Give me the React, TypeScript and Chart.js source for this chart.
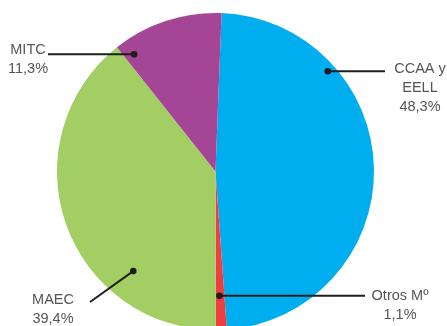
import React, { useEffect, useRef } from "react";
import { Chart, registerables } from "chart.js";

Chart.register(...registerables);

const categories = ["CCAA y EELL", "Otros Mº", "MAEC", "MITC"];
const values = [48.3, 1.1, 39.4, 11.3];
const sliceColors = ["#00AEEF", "#EE3E42", "#A2CE64", "#A44596"];
const labelLines = [["CCAA y", "EELL"], ["Otros Mº"], ["MAEC"], ["MITC"]];

const fmt = (v: number) => v.toFixed(1).replace(".", ",") + "%";

// annotation layout: where on the slice the dot sits (t along arc, rf radius fraction),
// where the leader ends, and where the text block is centered
const annotations = [
  { i: 0, t: 0.265, rf: 0.95, lx: 385, ly: null as number | null, tx: 420, ty: 72.5 },
  { i: 1, t: 0.58, rf: 0.785, lx: 365, ly: null as number | null, tx: 400, ty: 300 },
  { i: 2, t: 0.28, rf: 0.815, lx: 90, ly: 302, tx: 53, ty: 304 },
  { i: 3, t: 0.09, rf: 0.9, lx: 48, ly: null as number | null, tx: 28, ty: 54 },
];

const leaderPlugin = {
  id: "leaders",
  afterDraw(chart: any) {
    const ctx = chart.ctx;
    const meta = chart.getDatasetMeta(0);
    ctx.save();
    annotations.forEach((a) => {
      const el = meta.data[a.i];
      const p = el.getProps(["x", "y", "startAngle", "endAngle", "outerRadius"], true);
      const ang = p.startAngle + a.t * (p.endAngle - p.startAngle);
      const px = p.x + Math.cos(ang) * p.outerRadius * a.rf;
      const py = p.y + Math.sin(ang) * p.outerRadius * a.rf;
      const ey = a.ly === null ? py : a.ly;
      ctx.strokeStyle = "#1e1e1e";
      ctx.lineWidth = 2;
      ctx.beginPath();
      ctx.moveTo(px, py);
      ctx.lineTo(a.lx, ey);
      ctx.stroke();
      ctx.fillStyle = "#1e1e1e";
      ctx.beginPath();
      ctx.arc(px, py, 3.3, 0, Math.PI * 2);
      ctx.fill();
      const lines = [...labelLines[a.i], fmt(values[a.i])];
      ctx.font = "14.5px 'Liberation Sans', Arial, sans-serif";
      ctx.fillStyle = "#555555";
      ctx.textAlign = "center";
      ctx.textBaseline = "alphabetic";
      lines.forEach((s, k) => ctx.fillText(s, a.tx, a.ty + k * 19));
    });
    ctx.restore();
  },
};

export default function App() {
  const ref = useRef<HTMLCanvasElement>(null);
  useEffect(() => {
    if (!ref.current) return;
    const chart = new Chart(ref.current, {
      type: "pie",
      data: {
        labels: categories,
        datasets: [
          {
            data: values,
            backgroundColor: sliceColors,
            borderWidth: 0,
          },
        ],
      },
      options: {
        responsive: false,
        animation: false,
        rotation: 2.2,
        layout: { padding: { left: 57, right: 73, top: 13, bottom: 30 } },
        plugins: { legend: { display: false }, tooltip: { enabled: false } },
      },
      plugins: [leaderPlugin],
    });
    return () => chart.destroy();
  }, []);
  return (
    <div
      style={{
        position: "fixed",
        left: 0,
        top: 0,
        width: 447,
        height: 326,
        overflow: "hidden",
        background: "#fff",
      }}
    >
      <canvas ref={ref} width={447} height={360} style={{ display: "block" }} />
    </div>
  );
}
